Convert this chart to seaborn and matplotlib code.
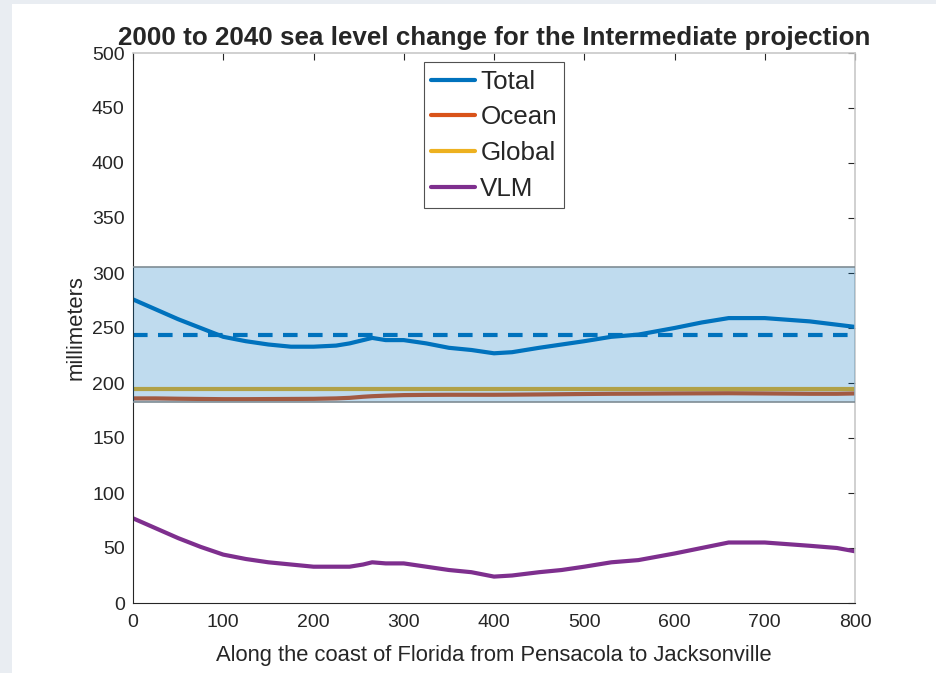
import matplotlib
matplotlib.use('Agg')
import matplotlib.pyplot as plt
import matplotlib.patches as mpatches
import pandas as pd
import seaborn as sns

# distance along the coast (km-ish units as on the x axis)
DIST = [0, 25, 50, 75, 100, 125, 150, 175, 200, 225, 240, 255, 265, 280, 300,
        325, 350, 375, 400, 420, 450, 475, 500, 530, 560, 600, 630, 660, 700,
        750, 780, 800]
TOTAL = [276, 267, 258, 250, 242, 238, 235, 233, 233, 234, 236, 239, 241, 239, 239,
         236, 232, 230, 227, 228, 232, 235, 238, 242, 244, 250, 255, 259, 259,
         256, 253, 251]
OCEAN = [186, 186, 185.7, 185.5, 185.3, 185.3, 185.4, 185.5, 185.6, 186, 186.5, 187.5, 188, 188.5, 189,
         189.2, 189.3, 189.3, 189.3, 189.4, 189.6, 189.8, 190, 190.2, 190.3, 190.5, 190.6, 190.7, 190.5,
         190.2, 190.2, 190.5]
GLOBAL = [195] * len(DIST)
VLM = [77, 68, 59, 51, 44, 40, 37, 35, 33, 33, 33, 35, 37, 36, 36,
       33, 30, 28, 24, 25, 28, 30, 33, 37, 39, 45, 50, 55, 55,
       52, 50, 47]

BAND_LOW = 183
BAND_HIGH = 305.5
TOTAL_MEAN = 244

COLORS = {'Total': '#0072BD', 'Ocean': '#D95319', 'Global': '#EDB120', 'VLM': '#7E2F8E'}

df = pd.DataFrame({'Distance': DIST, 'Total': TOTAL, 'Ocean': OCEAN,
                   'Global': GLOBAL, 'VLM': VLM})
long = df.melt(id_vars='Distance', var_name='Component', value_name='mm')

sns.set_style('white')
plt.rcParams['font.family'] = ['Liberation Sans', 'DejaVu Sans']

fig = plt.figure(figsize=(9.36, 6.73), dpi=100, facecolor='#e9edf2')
# white page area of the screenshot
page = mpatches.Rectangle((12 / 936, 0), 1, 1 - 4 / 673, transform=fig.transFigure,
                          facecolor='white', edgecolor='none', zorder=-10)
fig.patches.append(page)
ax = fig.add_axes([133 / 936, (673 - 603) / 673, 722 / 936, 550 / 673])

sns.lineplot(data=long, x='Distance', y='mm', hue='Component', palette=COLORS,
             linewidth=3, ax=ax, legend=False, zorder=2)
ax.axhline(TOTAL_MEAN, color=COLORS['Total'], linewidth=3, linestyle=(0, (3.5, 2.5)), zorder=2)
ax.axhspan(BAND_LOW, BAND_HIGH, facecolor=COLORS['Total'], alpha=0.25,
           edgecolor='none', zorder=3)
ax.axhline(BAND_LOW, color='#7f8c94', linewidth=1.2, zorder=3)
ax.axhline(BAND_HIGH, color='#7f8c94', linewidth=1.2, zorder=3)

ax.set_xlim(0, 800)
ax.set_ylim(0, 500)
ax.set_xticks(range(0, 801, 100))
ax.set_yticks(range(0, 501, 50))
ax.tick_params(axis='both', direction='in', length=5, width=0.8, color='#262626',
               labelsize=14, labelcolor='#262626', top=True, right=True)
ax.tick_params(axis='x', pad=8)
ax.tick_params(axis='y', pad=6)
for side in ['left', 'bottom']:
    ax.spines[side].set_color('#262626')
    ax.spines[side].set_linewidth(0.8)
for side in ['top', 'right']:
    ax.spines[side].set_color('#c8c8c8')
    ax.spines[side].set_linewidth(1.2)

ax.set_xlabel('Along the coast of Florida from Pensacola to Jacksonville',
              fontsize=15.8, color='#262626', labelpad=10)
ax.set_ylabel('millimeters', fontsize=15.8, color='#262626', labelpad=4)
ax.set_title('2000 to 2040 sea level change for the Intermediate projection',
             fontsize=18.7, fontweight='bold', pad=6)

handles = [plt.Line2D([], [], color=COLORS[k], linewidth=3) for k in COLORS]
leg = ax.legend(handles, list(COLORS), loc='upper center', bbox_to_anchor=(0.5, 0.983),
                fontsize=18.7, frameon=True, fancybox=False, handlelength=1.7,
                handletextpad=0.2, borderpad=0.28, labelspacing=0.45, borderaxespad=0)
leg.get_frame().set_edgecolor('#262626')
leg.get_frame().set_linewidth(0.8)

fig.savefig('out.png', dpi=100, facecolor=fig.get_facecolor())
